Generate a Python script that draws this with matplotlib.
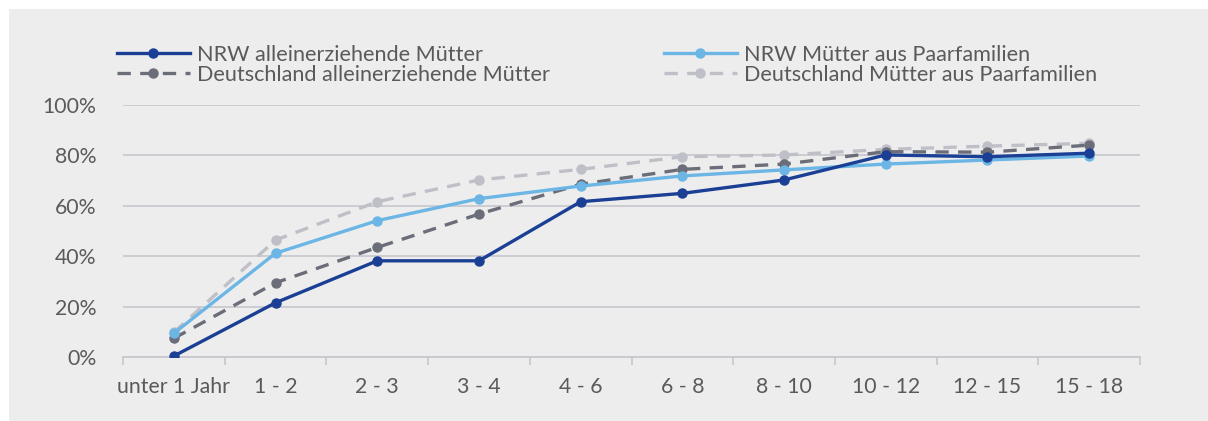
import matplotlib
matplotlib.use("Agg")
import matplotlib.pyplot as plt
from matplotlib.patches import Rectangle
from matplotlib.ticker import FixedLocator, FuncFormatter

categories = ["unter 1 Jahr", "1 - 2", "2 - 3", "3 - 4", "4 - 6", "6 - 8", "8 - 10", "10 - 12", "12 - 15", "15 - 18"]
nrw_allein = [0.5, 21.6, 38.2, 38.2, 61.6, 64.9, 70.2, 80.1, 79.4, 80.8]
nrw_paar = [9.5, 41.2, 54.1, 62.8, 67.8, 71.8, 74.2, 76.5, 78.1, 79.7]
de_allein = [7.5, 29.5, 43.5, 56.7, 68.5, 74.4, 76.5, 81.4, 81.2, 84.0]
de_paar = [9.9, 46.4, 61.6, 70.2, 74.4, 79.4, 80.1, 82.3, 83.6, 84.7]
labels = ["NRW alleinerziehende Mütter", "NRW Mütter aus Paarfamilien",
          "Deutschland alleinerziehende Mütter", "Deutschland Mütter aus Paarfamilien"]
yticks = [0, 20, 40, 60, 80, 100]

plt.rcParams['font.family'] = ['Lato', 'DejaVu Sans']
txt = '#5a5a5a'
bg = '#ededed'

fig = plt.figure(figsize=(12.08, 4.21), dpi=100, facecolor='white')
fig.patches.append(Rectangle((9/1208, 0), 1 - 9/1208, 1 - 9/421, transform=fig.transFigure,
                             facecolor=bg, edgecolor='none', zorder=-10))
ax = fig.add_axes([123/1208, 1 - 357.3/421, (1140-123)/1208, (357.3-104.7)/421])
ax.set_facecolor(bg)
ax.patch.set_alpha(0)

x = list(range(len(categories)))
ms = 6.5
lw = 2.4
h_de_paar, = ax.plot(x, de_paar, color='#bfc0c7', lw=lw, dashes=(4, 2.8), marker='o', ms=ms, label=labels[3], zorder=2)
h_de_allein, = ax.plot(x, de_allein, color='#6b6e78', lw=lw, dashes=(4, 2.8), marker='o', ms=ms, label=labels[2], zorder=3)
h_nrw_paar, = ax.plot(x, nrw_paar, color='#6cb6e6', lw=lw, marker='o', ms=ms, label=labels[1], zorder=4)
h_nrw_allein, = ax.plot(x, nrw_allein, color='#1a3f95', lw=lw, marker='o', ms=ms, label=labels[0], zorder=5)

ax.set_xlim(-0.5, len(categories) - 0.5)
ax.set_ylim(0, 100)
ax.yaxis.set_major_locator(FixedLocator(yticks))
ax.yaxis.set_major_formatter(FuncFormatter(lambda v, p: f"{int(v)}%"))
ax.grid(axis='y', color='#c6c6cd', lw=1.2, zorder=0)
ax.set_axisbelow(True)
for s in ['top', 'right', 'left']:
    ax.spines[s].set_visible(False)
ax.spines['bottom'].set_color('#c6c6cd')
ax.spines['bottom'].set_linewidth(1.2)
ax.tick_params(axis='y', length=0, pad=19, labelsize=15.3, labelcolor=txt)
ax.set_xticks(x)
ax.set_xticklabels(categories)
ax.tick_params(axis='x', which='major', length=0, pad=14, labelsize=15.3, labelcolor=txt)
ax.set_xticks([i - 0.5 for i in range(len(categories) + 1)], minor=True)
ax.tick_params(axis='x', which='minor', length=6, width=1.2, color='#c6c6cd')

leg_kw = dict(frameon=False, fontsize=15.6, handlelength=3.35, handletextpad=0.33,
              labelspacing=0.0, borderpad=0, borderaxespad=0, labelcolor=txt)
leg1 = fig.legend([h_nrw_allein, h_de_allein], [labels[0], labels[2]],
                  loc='upper left', bbox_to_anchor=(117/1208, 1 - 45/421), **leg_kw)
leg2 = fig.legend([h_nrw_paar, h_de_paar], [labels[1], labels[3]],
                  loc='upper left', bbox_to_anchor=(664/1208, 1 - 45/421), **leg_kw)

fig.savefig('out.png', dpi=100, facecolor='white')
